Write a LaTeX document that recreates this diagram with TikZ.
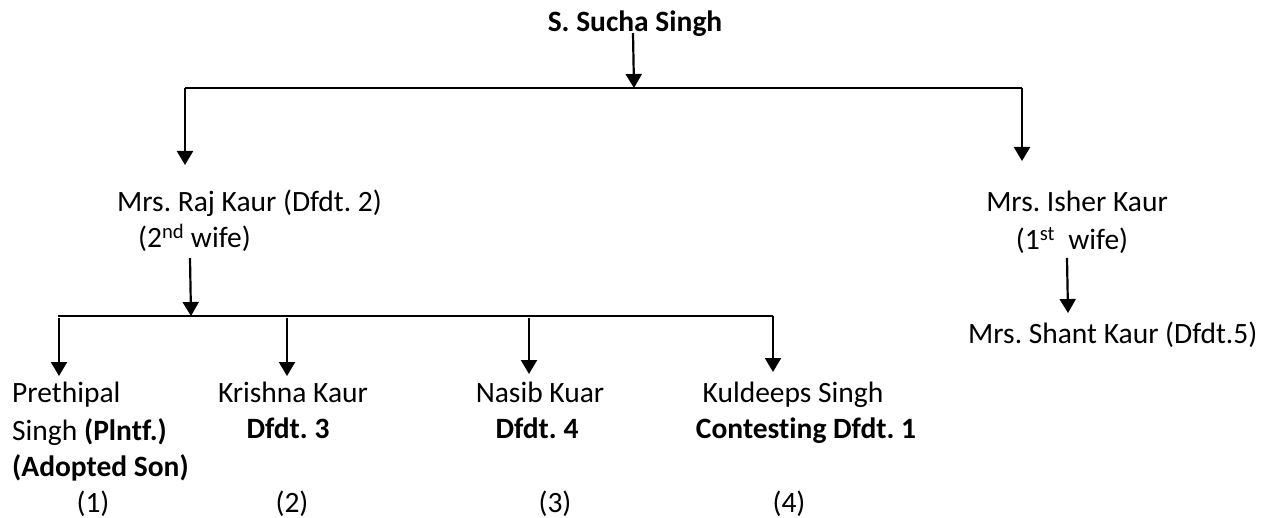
\documentclass[tikz,border=0pt]{standalone}
\usepackage{fontspec}
\setmainfont[Ligatures=NoCommon]{Carlito}
\usetikzlibrary{arrows.meta}
\frenchspacing
\begin{document}
\begin{tikzpicture}[x=1pt,y=-1pt,
  txt/.style={inner sep=0pt, anchor=base, font=\fontsize{29.5}{37}\selectfont},
  txtl/.style={txt, anchor=base west},
  arr/.style={line width=2.2pt, -{Triangle[width=16pt,length=14pt]}},
  bar/.style={line width=2.2pt}]
\useasboundingbox (0,0) rectangle (1265,518);
% texts
\node[txt, font=\fontsize{29.5}{37}\selectfont\bfseries] (root) at (635,32) {S. Sucha Singh};
\node[txtl] (raj) at (117,212) {Mrs. Raj Kaur (Dfdt. 2)};
\node[txtl] (raj2) at (138,248) {(2\textsuperscript{nd} wife)};
\node[txt] (isher) at (1077,212) {Mrs. Isher Kaur};
\node[txt] (isher2) at (1072,250) {(1\textsuperscript{st}\ \ wife)};
\node[txtl] (shant) at (968,343) {Mrs. Shant Kaur (Dfdt.5)};
\node[txtl] (c1a) at (12,402) {Prethipal};
\node[txtl] (c1b) at (12,440) {Singh \textbf{(Plntf.)}};
\node[txtl] (c1c) at (12,476) {\textbf{(Adopted Son)}};
\node[txt] (n1) at (93,512) {(1)};
\node[txt] (c2a) at (293,402) {Krishna Kaur};
\node[txt] (c2b) at (288,438) {\textbf{Dfdt. 3}};
\node[txt] (n2) at (292,512) {(2)};
\node[txt] (c3a) at (540,402) {Nasib Kuar};
\node[txt] (c3b) at (537,438) {\textbf{Dfdt. 4}};
\node[txt] (n3) at (555,512) {(3)};
\node[txt] (c4a) at (793,402) {Kuldeeps Singh};
\node[txt] (c4b) at (806,438) {\textbf{Contesting Dfdt. 1}};
\node[txt] (n4) at (789,512) {(4)};
% connector points
\coordinate (r0) at (633,33);
\coordinate (j0) at (634,88);
\coordinate (b0l) at (185,88);
\coordinate (b0r) at (1022,88);
\coordinate (rajin) at (185,165);
\coordinate (ishin) at (1022,161);
\coordinate (r1) at (190,258);
\coordinate (j1) at (191,316);
\coordinate (b1l) at (58,316);
\coordinate (b1r) at (773,316);
\coordinate (k1t) at (59,318);
\coordinate (k1) at (59,376);
\coordinate (k2t) at (287,318);
\coordinate (k2) at (287,376);
\coordinate (k3t) at (529,318);
\coordinate (k3) at (529,374);
\coordinate (k4) at (773,372);
\coordinate (i1) at (1067,258);
\coordinate (i2) at (1068,313);
% connectors
\draw[arr] (r0) -- (j0);
\draw[bar] (b0l) -- (b0r);
\draw[arr] (b0l) -- (rajin);
\draw[arr] (b0r) -- (ishin);
\draw[arr] (r1) -- (j1);
\draw[bar] (b1l) -- (b1r);
\draw[arr] (k1t) -- (k1);
\draw[arr] (k2t) -- (k2);
\draw[arr] (k3t) -- (k3);
\draw[arr] (b1r) -- (k4);
\draw[arr] (i1) -- (i2);
\end{tikzpicture}
\end{document}
